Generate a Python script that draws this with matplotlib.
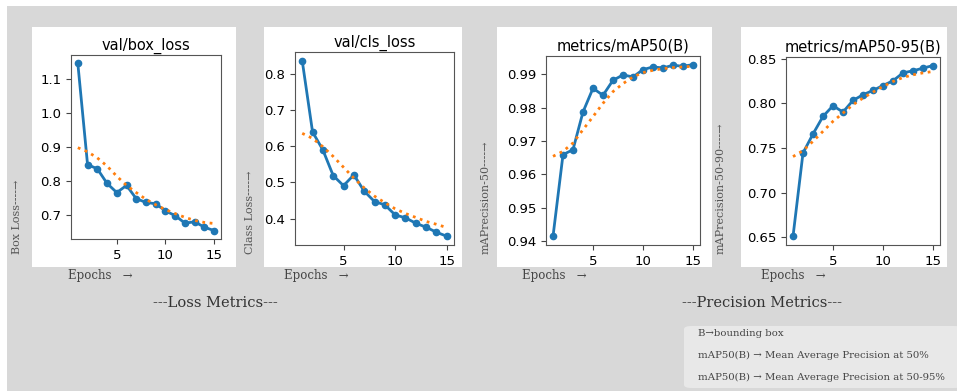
import numpy as np
import matplotlib.pyplot as plt
from matplotlib.patches import Rectangle, FancyBboxPatch

epochs = np.arange(1, 16)

box_loss = [1.145, 0.847, 0.835, 0.792, 0.765, 0.786, 0.747, 0.736, 0.732,
            0.711, 0.697, 0.675, 0.679, 0.663, 0.653]
box_trend = [0.897, 0.885, 0.867, 0.843, 0.813, 0.786, 0.765, 0.745, 0.729,
             0.715, 0.703, 0.692, 0.683, 0.677, 0.674]

cls_loss = [0.837, 0.640, 0.590, 0.519, 0.491, 0.521, 0.476, 0.447, 0.438,
            0.410, 0.402, 0.387, 0.376, 0.362, 0.351]
cls_trend = [0.636, 0.622, 0.599, 0.572, 0.542, 0.512, 0.485, 0.462, 0.444,
             0.427, 0.414, 0.403, 0.392, 0.384, 0.375]

map50 = [0.9414, 0.9659, 0.9674, 0.9787, 0.9858, 0.9837, 0.9882, 0.9898,
         0.9892, 0.9914, 0.9922, 0.9919, 0.9927, 0.9924, 0.9929]
map50_trend = [0.9654, 0.9669, 0.9694, 0.9734, 0.9773, 0.9813, 0.9848, 0.9872,
               0.9892, 0.9905, 0.9912, 0.9917, 0.9920, 0.9922, 0.9924]

map5095 = [0.6507, 0.7444, 0.7657, 0.7854, 0.7974, 0.7903, 0.8034, 0.8097,
           0.8146, 0.8201, 0.8254, 0.8343, 0.8366, 0.8396, 0.8425]
map5095_trend = [0.7403, 0.747, 0.7575, 0.7687, 0.7799, 0.7892, 0.7985, 0.806,
                 0.8127, 0.819, 0.8246, 0.8291, 0.8321, 0.8343, 0.8358]

titles = ['val/box_loss', 'val/cls_loss', 'metrics/mAP50(B)', 'metrics/mAP50-95(B)']
ylabels = ['Box Loss----→', 'Class Loss----→', 'mAPrecision-50----→', 'mAPrecision-50-90----→']
series = [(box_loss, box_trend), (cls_loss, cls_trend),
          (map50, map50_trend), (map5095, map5095_trend)]

W, H = 957, 391
fig = plt.figure(figsize=(W / 100, H / 100), dpi=100, facecolor='white')


def box(x0, y0, x1, y1):
    # pixel box (top-left origin) -> figure fraction [l, b, w, h]
    return [x0 / W, 1 - y1 / H, (x1 - x0) / W, (y1 - y0) / H]


# gray background
fig.patches.append(Rectangle((7 / W, 0), 1, 1 - 6 / H, transform=fig.transFigure,
                             facecolor='#d8d8d8', edgecolor='none', zorder=-10))

panels = [(32, 27, 236, 267), (264, 27, 462, 267), (497, 27, 712, 267), (741, 27, 947, 267)]
axes_px = [(71, 55, 221, 239), (295, 52, 454, 245), (546, 56, 700, 245), (786, 57, 940, 245)]
ylab_x = [17, 250, 486, 721]
epoch_x = [100, 316, 554, 793]

for i in range(4):
    l, b, w, h = box(*panels[i])
    fig.patches.append(Rectangle((l, b), w, h, transform=fig.transFigure,
                                 facecolor='white', edgecolor='none', zorder=-5))
    ax = fig.add_axes(box(*axes_px[i]))
    vals, trend = series[i]
    ax.plot(epochs, vals, '-o', color='#1f77b4', lw=2, ms=4.5)
    ax.plot(epochs, trend, ':', color='#ff7f0e', lw=2)
    ax.set_xticks([5, 10, 15])
    ax.set_title(titles[i], fontsize=10.5, pad=4)
    ax.tick_params(labelsize=9.5, length=3.5, color='#444')
    for s in ax.spines.values():
        s.set_color('#555')

    fig.text(ylab_x[i] / W, 1 - 254 / H, ylabels[i], rotation=90, ha='center', va='bottom',
             family='DejaVu Serif', fontsize=8, color='#555')
    fig.text(epoch_x[i] / W, 1 - 276 / H, 'Epochs   →', ha='center', va='center',
             family='DejaVu Serif', fontsize=8.5, color='#444')

fig.text(215 / W, 1 - 303 / H, '---Loss Metrics---', ha='center', va='center',
         family='DejaVu Serif', fontsize=10.5, color='#333')
fig.text(762 / W, 1 - 303 / H, '---Precision Metrics---', ha='center', va='center',
         family='DejaVu Serif', fontsize=10.5, color='#333')

# note box
l, b, w, h = box(684, 326, 962, 388)
fig.patches.append(FancyBboxPatch((l, b), w, h, boxstyle='round,pad=0,rounding_size=0.008',
                                  transform=fig.transFigure, facecolor='#e8e8e8',
                                  edgecolor='none', zorder=-4))
notes = ['B→bounding box',
         'mAP50(B) → Mean Average Precision at 50%',
         'mAP50(B) → Mean Average Precision at 50-95%']
for y, t in zip([333, 355, 377], notes):
    fig.text(698 / W, 1 - y / H, t, ha='left', va='center',
             family='DejaVu Serif', fontsize=7.3, color='#444')

fig.savefig('out.png', dpi=100, facecolor=fig.get_facecolor())
